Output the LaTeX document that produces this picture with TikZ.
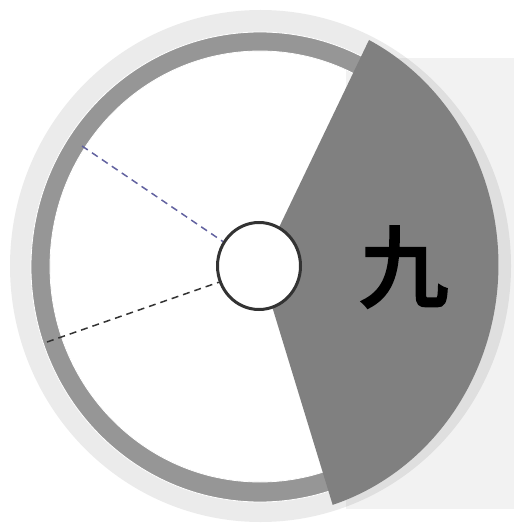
\documentclass[tikz,border=0pt]{standalone}
\usepackage{fontspec}
\newfontfamily\cjk{Noto Sans CJK SC}[FakeBold=4]
\usetikzlibrary{shapes.geometric}
\definecolor{lightring}{HTML}{EBEBEB}
\definecolor{grayring}{HTML}{969696}
\definecolor{sectorgray}{HTML}{808080}
\definecolor{panel}{HTML}{F2F2F2}
\definecolor{hubline}{HTML}{333333}
\definecolor{bluedash}{HTML}{6262A0}
\tikzset{
  hubstyle/.style={ellipse, draw=hubline, fill=white, line width=3pt, inner sep=0pt, minimum width=83pt, minimum height=87pt},
  dashline/.style={line width=1.5pt, dash pattern=on 7pt off 5pt},
  glyph/.style={inner sep=0pt, font=\cjk\fontsize{88}{88}\selectfont, text=black}
}
\begin{document}
\begin{tikzpicture}[x=1pt,y=-1pt]
\useasboundingbox (0,0) rectangle (514,529);
% light panel on the right
\fill[panel] (346,58) rectangle (514,509);
% outer light ring (translucent)
\fill[black, opacity=0.08, even odd rule]
  (260.5,266) ellipse [x radius=250.5, y radius=256]
  (260,267) ellipse [x radius=228, y radius=234];
% gray ring with thin white edges
\filldraw[fill=grayring, draw=white, line width=0.8pt, even odd rule]
  (260,267) ellipse [x radius=229, y radius=235]
  (260,266.5) ellipse [x radius=210, y radius=215.5];
% named points
\coordinate (c) at (260,267);
\coordinate (blueEnd) at (82,146);
\coordinate (blackEnd) at (47,342);
% sector
\fill[sectorgray] (c) -- (369,40) arc [start angle=-63, end angle=72.5, x radius=237, y radius=252] -- cycle;
% hub node
\node[hubstyle] (hub) at (259,266) {};
% dashed lines
\draw[dashline, bluedash] (blueEnd) -- (hub);
\draw[dashline, hubline] (blackEnd) -- (hub.202);
% character
\node[glyph] (nine) at (404,267) {九};
\end{tikzpicture}
\end{document}
